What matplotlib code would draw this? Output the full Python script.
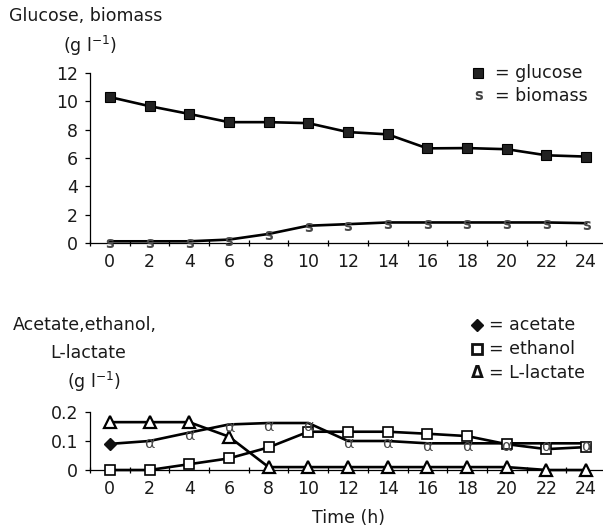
import matplotlib
matplotlib.use("Agg")
import matplotlib.pyplot as plt
from matplotlib.lines import Line2D
from matplotlib.transforms import offset_copy

# === DATA ===
tempo_h = [0, 2, 4, 6, 8, 10, 12, 14, 16, 18, 20, 22, 24]
glucose = [10.3, 9.66, 9.11, 8.53, 8.53, 8.46, 7.83, 7.67, 6.68, 6.7, 6.62, 6.19, 6.1]
biomass = [0.12, 0.12, 0.12, 0.24, 0.64, 1.22, 1.33, 1.45, 1.45, 1.45, 1.45, 1.45, 1.4]
acetate = [0.09, 0.1, 0.129, 0.157, 0.162, 0.162, 0.1, 0.1, 0.092, 0.092, 0.092, 0.092, 0.092]
ethanol = [0.0, 0.0, 0.02, 0.04, 0.078, 0.132, 0.132, 0.132, 0.125, 0.117, 0.089, 0.072, 0.079]
lactate = [0.165, 0.165, 0.165, 0.115, 0.01, 0.01, 0.01, 0.01, 0.01, 0.01, 0.01, 0.0, 0.0]

yticks_top = [0, 2, 4, 6, 8, 10, 12]
yticks_bot = [0, 0.1, 0.2]
ylabels_bot = ["0", "0.1", "0.2"]

# === STYLE ===
W, H = 603, 531
TXT = "#1a1a1a"
FS = 12.5
plt.rcParams["font.family"] = ["DejaVu Sans"]
plt.rcParams["font.size"] = FS

fig = plt.figure(figsize=(W / 100, H / 100), dpi=100)


def px(x, y):
    return x / W, 1 - y / H


def setup_axes(ax):
    ax.spines["top"].set_visible(False)
    ax.spines["right"].set_visible(False)
    ax.spines["left"].set_linewidth(0.9)
    ax.spines["bottom"].set_linewidth(0.9)
    ax.set_xlim(-1, 25)
    ax.set_xticks(tempo_h)
    ax.set_xticks(list(range(-1, 26, 2)), minor=True)
    ax.tick_params(axis="x", which="major", length=0, pad=7, labelsize=FS, colors=TXT)
    ax.tick_params(axis="x", which="minor", direction="inout", length=5, width=0.9)
    ax.tick_params(axis="y", which="major", direction="out", length=3.5, width=0.9,
                   pad=5, labelsize=FS, colors=TXT)
    ax.tick_params(axis="both", color="black")


def legend_marker(x, y, **kw):
    fx, fy = px(x, y)
    fig.add_artist(Line2D([fx], [fy], transform=fig.transFigure, linestyle="none", **kw))


# === TOP PANEL: glucose, biomass ===
ax1 = fig.add_axes([90 / W, (H - 243) / H, 516 / W, 170 / H])
setup_axes(ax1)
ax1.set_ylim(0, 12)
ax1.set_yticks(yticks_top)
ax1.plot(tempo_h, glucose, color="black", lw=1.9, marker="s", ms=7.5,
         mfc="#222222", mec="black", mew=0.8, clip_on=False, zorder=3)
ax1.plot(tempo_h, biomass, color="black", lw=1.9, clip_on=False, zorder=2)
off_s = offset_copy(ax1.transData, fig=fig, y=-2, units="dots")
for x, y in zip(tempo_h, biomass):
    ax1.text(x, y, "s", transform=off_s, ha="center", va="center", fontsize=10.5,
             fontweight="bold", color="#4a4a4a", clip_on=False, zorder=4)

# === BOTTOM PANEL: acetate, ethanol, L-lactate ===
ax2 = fig.add_axes([90 / W, (H - 470) / H, 516 / W, 58 / H])
setup_axes(ax2)
ax2.set_ylim(0, 0.2)
ax2.set_yticks(yticks_bot)
ax2.set_yticklabels(ylabels_bot)
ax2.plot(tempo_h, lactate, color="black", lw=1.9, marker="^", ms=8.5,
         mfc="white", mec="black", mew=1.6, clip_on=False, zorder=3)
ax2.plot(tempo_h, ethanol, color="black", lw=1.9, marker="s", ms=7.5,
         mfc="white", mec="black", mew=1.2, clip_on=False, zorder=3)
ax2.plot(tempo_h, acetate, color="black", lw=1.9, clip_on=False, zorder=2)
ax2.plot(tempo_h[:1], acetate[:1], linestyle="none", marker="D", ms=6.5,
         color="#111111", clip_on=False, zorder=4)
off_a = offset_copy(ax2.transData, fig=fig, y=-3, units="dots")
for x, y in zip(tempo_h[1:], acetate[1:]):
    ax2.text(x, y, "α", transform=off_a, ha="center", va="center", fontsize=11.5,
             color="#4a4a4a", clip_on=False, zorder=4)

# === LABELS ===
fig.text(*px(9, 16), "Glucose, biomass", ha="left", va="center", color=TXT)
fig.text(*px(63, 46), "(g l$^{-1}$)", ha="left", va="center", color=TXT)
fig.text(*px(13, 325), "Acetate,ethanol,", ha="left", va="center", color=TXT)
fig.text(*px(50, 353), "L-lactate", ha="left", va="center", color=TXT)
fig.text(*px(67, 382), "(g l$^{-1}$)", ha="left", va="center", color=TXT)
fig.text(*px(348, 518), "Time (h)", ha="center", va="center", color=TXT)

# === LEGENDS (text style) ===
legend_marker(478, 73, marker="s", ms=7, mfc="#222222", mec="black", mew=0.8)
fig.text(*px(495, 73), "= glucose", ha="left", va="center", color=TXT)
fig.text(*px(479, 96), "s", ha="center", va="center", fontsize=10.5, fontweight="bold", color="#444444")
fig.text(*px(495, 96), "= biomass", ha="left", va="center", color=TXT)

legend_marker(477, 325, marker="D", ms=6.5, color="#111111")
fig.text(*px(489, 325), "= acetate", ha="left", va="center", color=TXT)
legend_marker(477, 349, marker="s", ms=7, mfc="white", mec="#111111", mew=2)
fig.text(*px(489, 349), "= ethanol", ha="left", va="center", color=TXT)
fig.text(*px(477, 373), "Δ", ha="center", va="center", fontsize=12, fontweight="bold", color="#111111")
fig.text(*px(489, 373), "= L-lactate", ha="left", va="center", color=TXT)

fig.savefig("out.png", dpi=100)
